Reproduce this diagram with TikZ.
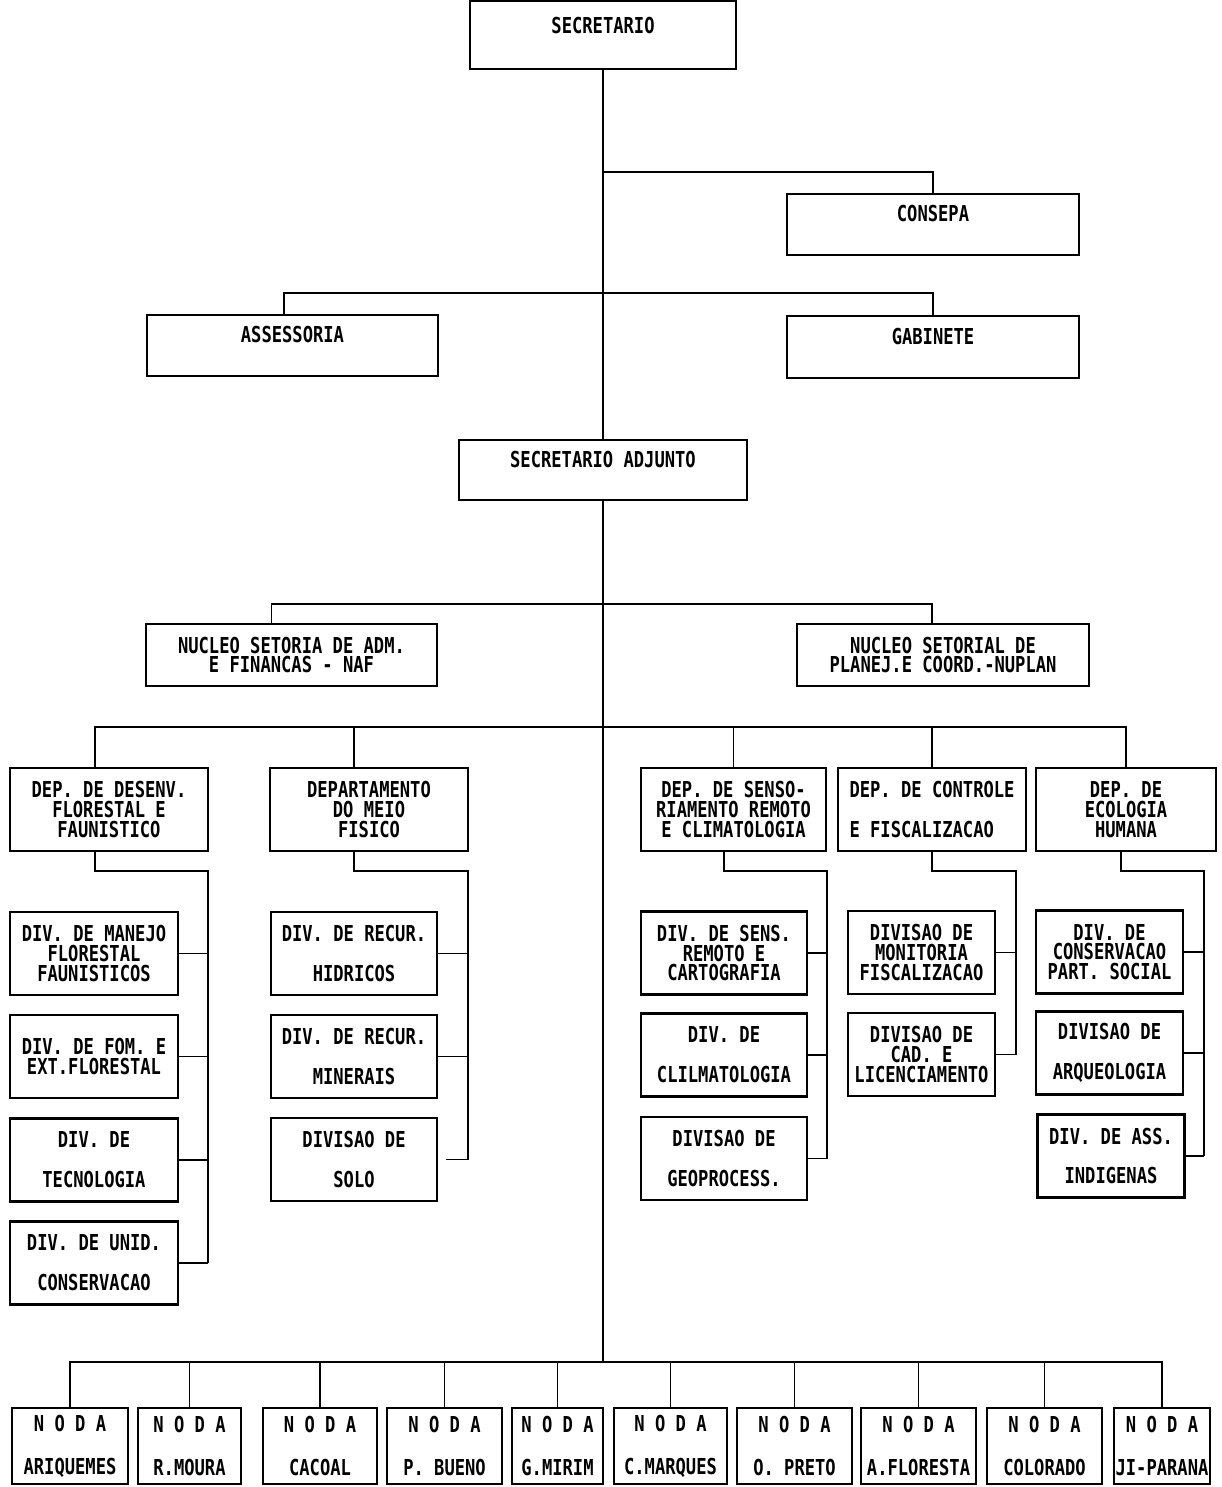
\documentclass[tikz,border=0pt]{standalone}
\usepackage{fontspec}
\usepackage{tikz}
\newfontfamily\orgfont[FakeStretch=0.78]{DejaVu Sans Mono}
\newcommand{\gapline}{0.4cm}

\tikzset{
	box/.style={draw, line width=1.3pt, inner sep=1pt, align=center,
		font=\orgfont\bfseries\fontsize{12.5}{11.3}\selectfont},
	raised/.style={text height=0.25cm, text depth=0.37cm},
	dept/.style={box, minimum height=1.66cm},
	divbox/.style={box, minimum height=1.66cm},
	noda/.style={box, minimum height=1.52cm},
	link/.style={line width=1pt},
}

\begin{document}
\begin{tikzpicture}[x=0.02cm, y=-0.02cm]
			
			\useasboundingbox (0,0) rectangle (1221,1487);
			
			% Top boxes
			\node[box, text height=0.25cm, text depth=0.3cm, minimum width=5.32cm, minimum height=1.36cm] (sec) at (603,35) {SECRETARIO};
			\node[box, raised, minimum width=5.84cm, minimum height=1.22cm] (consepa) at (933,224.5) {CONSEPA};
			\node[box, raised, minimum width=5.82cm, minimum height=1.22cm] (asses) at (292.5,345.5) {ASSESSORIA};
			\node[box, raised, minimum width=5.84cm, minimum height=1.24cm] (gab) at (933,347) {GABINETE};
			\node[box, raised, minimum width=5.76cm, minimum height=1.2cm] (adj) at (603,470) {SECRETARIO ADJUNTO};
			\node[box, minimum width=5.82cm, minimum height=1.24cm] (naf) at (291.5,655) {NUCLEO SETORIA DE ADM.\\E FINANCAS - NAF};
			\node[box, minimum width=5.84cm, minimum height=1.24cm] (nuplan) at (943,655) {NUCLEO SETORIAL DE\\PLANEJ.E COORD.-NUPLAN};
			
			% Departments
			\node[dept, minimum width=3.96cm] (dep1) at (109,809.5) {DEP. DE DESENV.\\FLORESTAL E\\FAUNISTICO};
			\node[dept, minimum width=3.96cm] (dep2) at (369,809.5) {DEPARTAMENTO\\DO MEIO\\FISICO};
			\node[dept, minimum width=3.70cm] (dep3) at (733.5,809.5) {DEP. DE SENSO-\\RIAMENTO REMOTO\\E CLIMATOLOGIA};
			\node[dept, minimum width=3.76cm, align=left] (dep4) at (932,809.5) {DEP. DE CONTROLE\\[\gapline]E FISCALIZACAO};
			\node[dept, minimum width=3.60cm] (dep5) at (1126,809.5) {DEP. DE\\ECOLOGIA\\HUMANA};
			
			% Divisions
			\node[divbox, minimum width=3.36cm] (manejo) at (94,953.5) {DIV. DE MANEJO\\FLORESTAL\\FAUNISTICOS};
			\node[divbox, minimum width=3.36cm] (fom) at (94,1056.5) {DIV. DE FOM. E\\EXT.FLORESTAL};
			\node[divbox, minimum width=3.36cm] (tec) at (94,1160) {DIV. DE\\[\gapline]TECNOLOGIA};
			\node[divbox, minimum width=3.36cm] (unid) at (94,1263) {DIV. DE UNID.\\[\gapline]CONSERVACAO};
			
			\node[divbox, minimum width=3.32cm] (hidr) at (354,953.5) {DIV. DE RECUR.\\[\gapline]HIDRICOS};
			\node[divbox, minimum width=3.32cm] (miner) at (354,1056.5) {DIV. DE RECUR.\\[\gapline]MINERAIS};
			\node[divbox, minimum width=3.32cm] (solo) at (354,1159.5) {DIVISAO DE\\[\gapline]SOLO};
			
			\node[divbox, minimum width=3.32cm] (sens) at (724,953) {DIV. DE SENS.\\REMOTO E\\CARTOGRAFIA};
			\node[divbox, minimum width=3.32cm] (clim) at (724,1055) {DIV. DE\\[\gapline]CLILMATOLOGIA};
			\node[divbox, minimum width=3.32cm] (geo) at (724,1158.5) {DIVISAO DE\\[\gapline]GEOPROCESS.};
			
			\node[divbox, minimum width=2.94cm] (monit) at (921.5,952.5) {DIVISAO DE\\MONITORIA\\FISCALIZACAO};
			\node[divbox, minimum width=2.94cm] (cad) at (921.5,1054.5) {DIVISAO DE\\CAD. E\\LICENCIAMENTO};
			
			\node[divbox, minimum width=2.94cm] (consv) at (1109.5,952) {DIV. DE\\CONSERVACAO\\PART. SOCIAL};
			\node[divbox, minimum width=2.94cm] (arq) at (1109.5,1053) {DIVISAO DE\\[\gapline]ARQUEOLOGIA};
			\node[divbox, minimum width=2.94cm] (indig) at (1111,1156) {DIV. DE ASS.\\[\gapline]INDIGENAS};
			
			% Regional offices
			\node[noda, minimum width=2.32cm] (ariq) at (70,1446) {N O D A\\[0.46cm]ARIQUEMES};
			\node[noda, minimum width=2.06cm] (rmoura) at (189.5,1446) {N O D A\\[0.46cm]R.MOURA};
			\node[noda, minimum width=2.28cm] (cacoal) at (320,1446) {N O D A\\[0.46cm]CACOAL};
			\node[noda, minimum width=2.30cm] (pbueno) at (444.5,1446) {N O D A\\[0.46cm]P. BUENO};
			\node[noda, minimum width=1.82cm] (gmirim) at (557.5,1446) {N O D A\\[0.46cm]G.MIRIM};
			\node[noda, minimum width=2.26cm] (cmarq) at (670.5,1446) {N O D A\\[0.46cm]C.MARQUES};
			\node[noda, minimum width=2.30cm] (opreto) at (794.5,1446) {N O D A\\[0.46cm]O. PRETO};
			\node[noda, minimum width=2.30cm] (aflor) at (918.5,1446) {N O D A\\[0.46cm]A.FLORESTA};
			\node[noda, minimum width=2.30cm] (color) at (1044.5,1446) {N O D A\\[0.46cm]COLORADO};
			\node[noda, minimum width=1.92cm] (jipar) at (1162,1446) {N O D A\\[0.46cm]JI-PARANA};
			
			% Junctions on the trunk
			\coordinate (j1) at (603,172);
			\coordinate (j2) at (603,293);
			\coordinate (j3) at (603,604);
			\coordinate (j4) at (603,727);
			\coordinate (bus) at (603,1362);
			
			% Trunk and upper branches
			\draw[link] (sec.south) -- (adj.north);
			\draw[link] (adj.south) -- (bus);
			\draw[link] (j1) -| (consepa.north);
			\draw[link] ([xshift=-0.17cm]asses.north) |- (j2) -| (gab.north);
			\draw[link] ([xshift=-0.4cm]naf.north) |- (j3) -| ([xshift=-0.22cm]nuplan.north);
			
			% Department bus
			\draw[link] ([xshift=-0.28cm]dep1.north) |- (j4) -| (dep5.north);
			\draw[link] ([xshift=-0.3cm]dep2.north) -- ([xshift=-0.3cm]dep2.north |- j4);
			\foreach \n in {dep3,dep4}
			\draw[link] (\n.north) -- (\n.north |- j4);
			
			% Rails down to the divisions
			\coordinate (r1) at (208,871);
			\coordinate (r2) at (468,871);
			\coordinate (r3) at (827,871);
			\coordinate (r4) at (1016,871);
			\coordinate (r5) at (1204,871);
			\draw[link] ([xshift=-0.28cm]dep1.south) |- (r1) -- (r1 |- unid.east);
			\draw[link] ([xshift=-0.3cm]dep2.south) |- (r2) -- (r2 |- solo.east);
			\draw[link] ([xshift=-0.19cm]dep3.south) |- (r3) -- (r3 |- geo.east);
			\draw[link] (dep4.south) |- (r4) -- (r4 |- cad.east);
			\draw[link] ([xshift=-0.1cm]dep5.south) |- (r5) -- (r5 |- indig.east);
			
			\foreach \n in {manejo,fom,tec,unid}
			\draw[link] (\n.east) -- (\n.east -| r1);
			\foreach \n in {hidr,miner}
			\draw[link] (\n.east) -- (\n.east -| r2);
			\draw[link] ([xshift=0.16cm]solo.east) -- (solo.east -| r2);
			\foreach \n in {sens,clim,geo}
			\draw[link] (\n.east) -- (\n.east -| r3);
			\foreach \n in {monit,cad}
			\draw[link] (\n.east) -- (\n.east -| r4);
			\foreach \n in {consv,arq,indig}
			\draw[link] (\n.east) -- (\n.east -| r5);
			
			% Bottom bus
			\draw[link] (ariq.north) |- (bus) -| (jipar.north);
			\foreach \n in {rmoura,cacoal,pbueno,gmirim,cmarq,opreto,aflor,color}
			\draw[link] (\n.north) -- (\n.north |- bus);
			
		\end{tikzpicture}
\end{document}
